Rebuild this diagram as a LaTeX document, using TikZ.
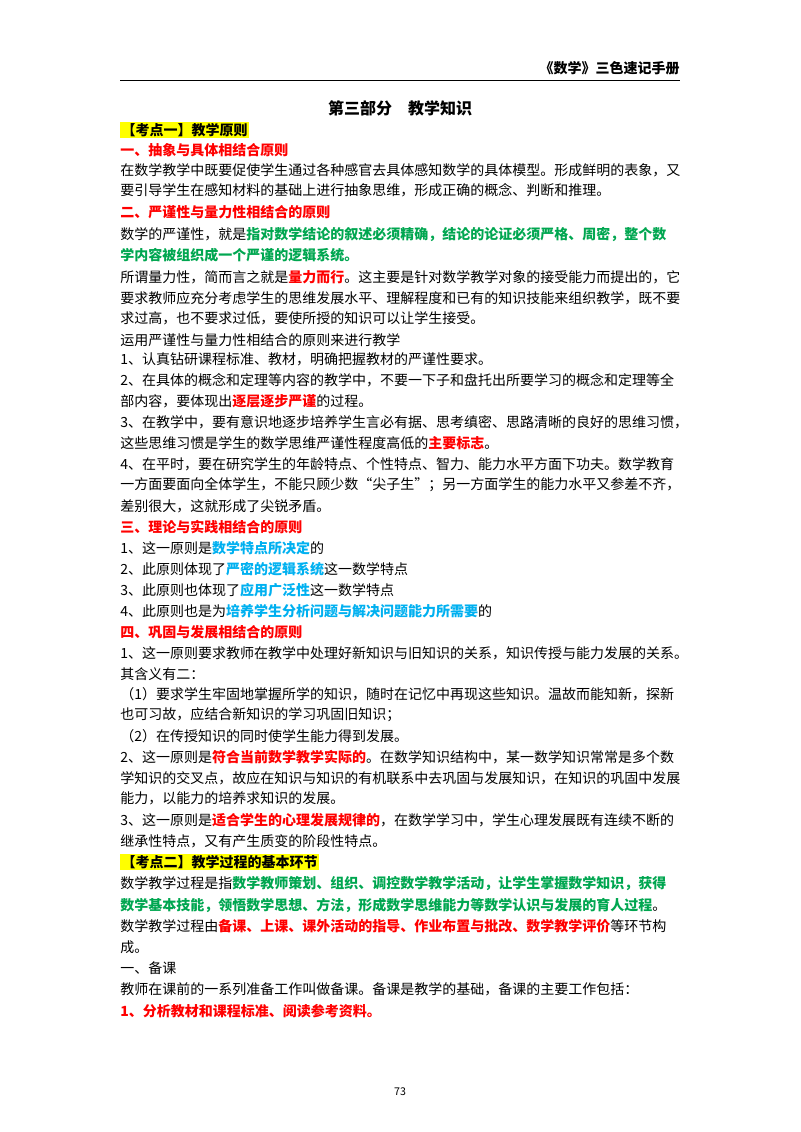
\documentclass[tikz,border=0pt]{standalone}
\usepackage{fontspec}
\setmainfont{Noto Sans CJK SC}
\definecolor{myred}{HTML}{FF0000}
\definecolor{mygreen}{HTML}{00A650}
\definecolor{myblue}{HTML}{00B0F0}
\definecolor{myyel}{HTML}{FFFF00}
\newcommand\rdx[1]{\textcolor{myred}{\bfseries #1}}
\newcommand\grx[1]{\textcolor{mygreen}{\bfseries #1}}
\newcommand\blx[1]{\textcolor{myblue}{\bfseries #1}}
\begin{document}
\begin{tikzpicture}[x=0.75pt,y=-0.75pt,
  ln/.style={anchor=west,inner sep=0pt,font=\fontsize{10.5}{12}\selectfont},
  hd/.style={ln,text=myred,font=\fontsize{10.5}{12}\selectfont\bfseries},
  kd/.style={ln,fill=myyel,inner sep=1pt,font=\fontsize{10.5}{12}\selectfont\bfseries}]
\useasboundingbox (0,0) rectangle (800,1132);
\node[anchor=east,inner sep=0pt,font=\fontsize{10.5}{12}\selectfont\bfseries] (hdr) at (680,68) {《数学》三色速记手册};
\draw[line width=0.6pt] (120,80) -- (680,80);
\node[inner sep=0pt,font=\fontsize{12}{14}\selectfont\bfseries] (title) at (400,108) {第三部分\quad 教学知识};
\node[kd] (l1) at (120,130) {【考点一】教学原则};
\node[hd] (l2) at (120,150) {一、抽象与具体相结合原则};
\node[ln] (l3) at (120,170) {在数学教学中既要促使学生通过各种感官去具体感知数学的具体模型。形成鲜明的表象，又};
\node[ln] (l4) at (120,190) {要引导学生在感知材料的基础上进行抽象思维，形成正确的概念、判断和推理。};
\node[hd] (l5) at (120,212) {二、严谨性与量力性相结合的原则};
\node[ln] (l6) at (120,234) {数学的严谨性，就是\grx{指对数学结论的叙述必须精确，结论的论证必须严格、周密，整个数}};
\node[ln] (l7) at (120,255) {\grx{学内容被组织成一个严谨的逻辑系统。}};
\node[ln] (l8) at (120,277) {所谓量力性，简而言之就是\rdx{量力而行}。这主要是针对数学教学对象的接受能力而提出的，它};
\node[ln] (l9) at (120,298) {要求教师应充分考虑学生的思维发展水平、理解程度和已有的知识技能来组织教学，既不要};
\node[ln] (l10) at (120,318) {求过高，也不要求过低，要使所授的知识可以让学生接受。};
\node[ln] (l11) at (120,340) {运用严谨性与量力性相结合的原则来进行教学};
\node[ln] (l12) at (120,359) {1、认真钻研课程标准、教材，明确把握教材的严谨性要求。};
\node[ln] (l13) at (120,380) {2、在具体的概念和定理等内容的教学中，不要一下子和盘托出所要学习的概念和定理等全};
\node[ln] (l14) at (120,401) {部内容，要体现出\rdx{逐层逐步严谨}的过程。};
\node[ln] (l15) at (120,422) {3、在教学中，要有意识地逐步培养学生言必有据、思考缜密、思路清晰的良好的思维习惯，};
\node[ln] (l16) at (120,443) {这些思维习惯是学生的数学思维严谨性程度高低的\rdx{主要标志}。};
\node[ln] (l17) at (120,464) {4、在平时，要在研究学生的年龄特点、个性特点、智力、能力水平方面下功夫。数学教育};
\node[ln] (l18) at (120,485) {一方面要面向全体学生，不能只顾少数“尖子生”；另一方面学生的能力水平又参差不齐，};
\node[ln] (l19) at (120,506) {差别很大，这就形成了尖锐矛盾。};
\node[hd] (l20) at (120,527) {三、理论与实践相结合的原则};
\node[ln] (l21) at (120,548) {1、这一原则是\blx{数学特点所决定}的};
\node[ln] (l22) at (120,569) {2、此原则体现了\blx{严密的逻辑系统}这一数学特点};
\node[ln] (l23) at (120,590) {3、此原则也体现了\blx{应用广泛性}这一数学特点};
\node[ln] (l24) at (120,611) {4、此原则也是为\blx{培养学生分析问题与解决问题能力所需要}的};
\node[hd] (l25) at (120,632) {四、巩固与发展相结合的原则};
\node[ln] (l26) at (120,653) {1、这一原则要求教师在教学中处理好新知识与旧知识的关系，知识传授与能力发展的关系。};
\node[ln] (l27) at (120,674) {其含义有二：};
\node[ln] (l28) at (120,694) {（1）要求学生牢固地掌握所学的知识，随时在记忆中再现这些知识。温故而能知新，探新};
\node[ln] (l29) at (120,715) {也可习故，应结合新知识的学习巩固旧知识；};
\node[ln] (l30) at (120,736) {（2）在传授知识的同时使学生能力得到发展。};
\node[ln] (l31) at (120,757) {2、这一原则是\rdx{符合当前数学教学实际的}。在数学知识结构中，某一数学知识常常是多个数};
\node[ln] (l32) at (120,778) {学知识的交叉点，故应在知识与知识的有机联系中去巩固与发展知识，在知识的巩固中发展};
\node[ln] (l33) at (120,798) {能力，以能力的培养求知识的发展。};
\node[ln] (l34) at (120,820) {3、这一原则是\rdx{适合学生的心理发展规律的}，在数学学习中，学生心理发展既有连续不断的};
\node[ln] (l35) at (120,841) {继承性特点，又有产生质变的阶段性特点。};
\node[kd] (l36) at (120,862) {【考点二】教学过程的基本环节};
\node[ln] (l37) at (120,884) {数学教学过程是指\grx{数学教师策划、组织、调控数学教学活动，让学生掌握数学知识，获得}};
\node[ln] (l38) at (120,905) {\grx{数学基本技能，领悟数学思想、方法，形成数学思维能力等数学认识与发展的育人过程}。};
\node[ln] (l39) at (120,926) {数学教学过程由\rdx{备课、上课、课外活动的指导、作业布置与批改、数学教学评价}等环节构};
\node[ln] (l40) at (120,947) {成。};
\node[ln] (l41) at (120,968) {一、备课};
\node[ln] (l42) at (120,989) {教师在课前的一系列准备工作叫做备课。备课是教学的基础，备课的主要工作包括：};
\node[ln] (l43) at (120,1011) {\rdx{1、分析教材和课程标准、阅读参考资料。}};
\node[inner sep=0pt,font=\fontsize{8}{10}\selectfont] (pg) at (400,1092) {73};
\end{tikzpicture}
\end{document}
